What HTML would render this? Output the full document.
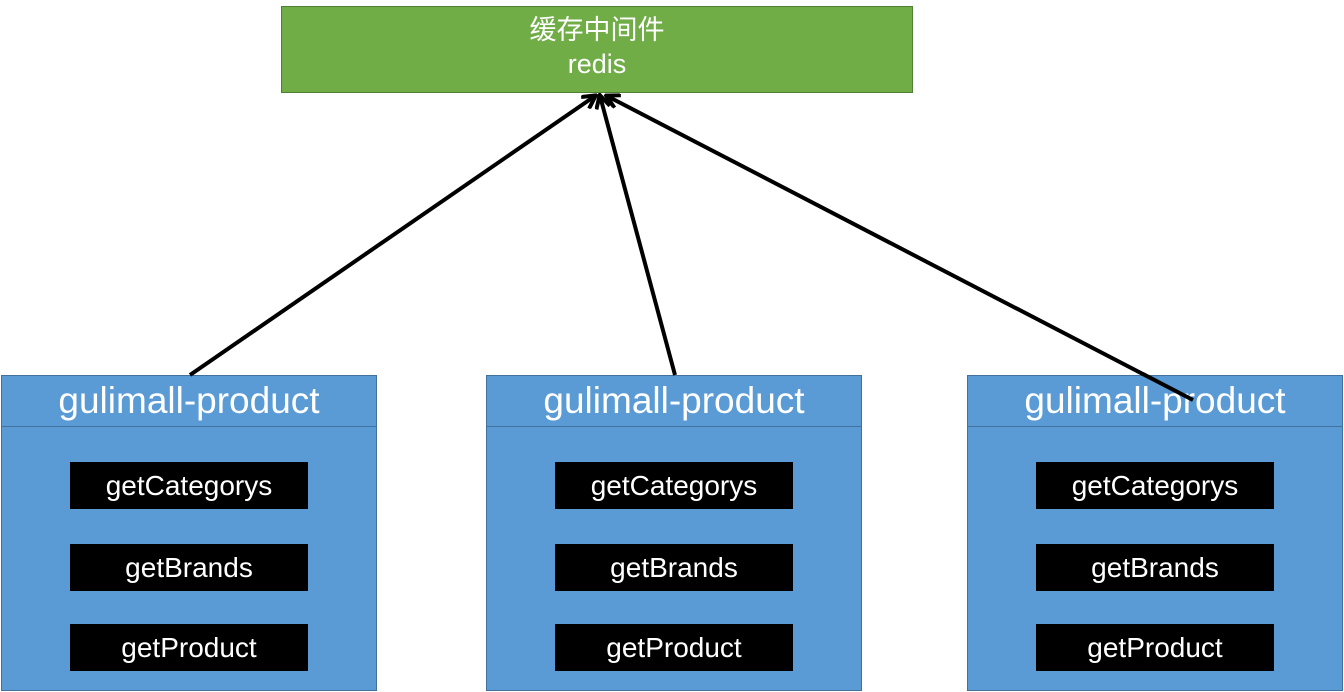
<!DOCTYPE html>
<html><head><meta charset="utf-8"><style>
body{margin:0;width:1344px;height:692px;background:#fff;position:relative;overflow:hidden;font-family:"Liberation Sans","Noto Sans CJK SC",sans-serif}
.g{position:absolute;left:281px;top:6px;width:630px;height:85px;background:#70AD47;border:1.5px solid #507E32;color:#fff;text-align:center}
.p{position:absolute;top:375px;width:374px;height:314px;background:#5B9BD5;border:1.5px solid #41719C}
.h{height:50px;border-bottom:1.5px solid #41719C;color:#fff;font-size:37px;text-align:center;line-height:50px}
.b{position:absolute;width:238px;height:47px;background:#000;color:#fff;font-size:28px;text-align:center;line-height:47px}
</style></head><body>
<div class="g"><div style="font-size:27px;margin-top:7px;line-height:32px">缓存中间件</div><div style="font-size:27px;line-height:36px">redis</div></div>
<div class="p" style="left:1px"><div class="h">gulimall-product</div>
<div class="b" style="left:68px;top:86px">getCategorys</div><div class="b" style="left:68px;top:168px">getBrands</div><div class="b" style="left:68px;top:248px">getProduct</div></div>
<div class="p" style="left:486px"><div class="h">gulimall-product</div>
<div class="b" style="left:68px;top:86px">getCategorys</div><div class="b" style="left:68px;top:168px">getBrands</div><div class="b" style="left:68px;top:248px">getProduct</div></div>
<div class="p" style="left:967px"><div class="h">gulimall-product</div>
<div class="b" style="left:68px;top:86px">getCategorys</div><div class="b" style="left:68px;top:168px">getBrands</div><div class="b" style="left:68px;top:248px">getProduct</div></div>
<svg width="1344" height="692" style="position:absolute;left:0;top:0">
<defs><marker id="a" markerWidth="16" markerHeight="16" refX="13" refY="8" orient="auto" markerUnits="userSpaceOnUse"><path d="M1,1 L14,8 L1,15" fill="none" stroke="#000" stroke-width="4"/></marker></defs>
<g stroke="#000" stroke-width="4" fill="none">
<line x1="190" y1="375" x2="595" y2="96" marker-end="url(#a)"/>
<line x1="675" y1="375" x2="600" y2="96" marker-end="url(#a)"/>
<line x1="1193" y1="400" x2="607" y2="96" marker-end="url(#a)"/>
</g></svg>
</body></html>
